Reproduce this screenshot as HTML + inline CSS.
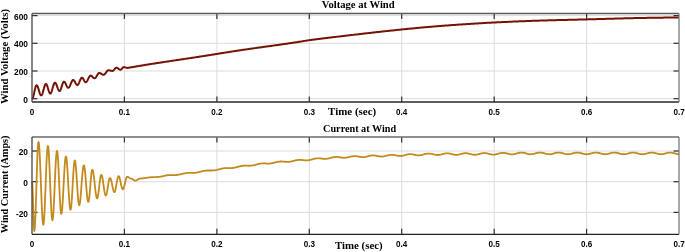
<!DOCTYPE html>
<html><head><meta charset="utf-8"><style>
html,body{margin:0;padding:0;background:#fff;}
body{width:685px;height:252px;overflow:hidden;}
svg{display:block;filter:blur(0.3px);}
.tk{font-family:"Liberation Sans",sans-serif;font-weight:bold;font-size:9px;fill:#000;}
.ti{font-family:"Liberation Serif",serif;font-weight:bold;font-size:11.2px;fill:#000;}
</style></head><body>
<svg width="685" height="252" viewBox="0 0 685 252">
<rect width="685" height="252" fill="#fff"/>
<g stroke="#dcdcdc" stroke-width="1" fill="none">
<line x1="124.4" y1="13.5" x2="124.4" y2="102.0"/>
<line x1="124.4" y1="137.0" x2="124.4" y2="234.3"/>
<line x1="216.9" y1="13.5" x2="216.9" y2="102.0"/>
<line x1="216.9" y1="137.0" x2="216.9" y2="234.3"/>
<line x1="309.3" y1="13.5" x2="309.3" y2="102.0"/>
<line x1="309.3" y1="137.0" x2="309.3" y2="234.3"/>
<line x1="401.7" y1="13.5" x2="401.7" y2="102.0"/>
<line x1="401.7" y1="137.0" x2="401.7" y2="234.3"/>
<line x1="494.2" y1="13.5" x2="494.2" y2="102.0"/>
<line x1="494.2" y1="137.0" x2="494.2" y2="234.3"/>
<line x1="586.6" y1="13.5" x2="586.6" y2="102.0"/>
<line x1="586.6" y1="137.0" x2="586.6" y2="234.3"/>
<line x1="32" y1="98.7" x2="679" y2="98.7"/>
<line x1="32" y1="71.0" x2="679" y2="71.0"/>
<line x1="32" y1="43.3" x2="679" y2="43.3"/>
<line x1="32" y1="15.6" x2="679" y2="15.6"/>
<line x1="32" y1="212.4" x2="679" y2="212.4"/>
<line x1="32" y1="181.7" x2="679" y2="181.7"/>
<line x1="32" y1="151.0" x2="679" y2="151.0"/>
</g>
<g stroke="#303030" stroke-width="1.2" fill="none">
<line x1="124.4" y1="13.5" x2="124.4" y2="19.0"/>
<line x1="124.4" y1="102.0" x2="124.4" y2="96.5"/>
<line x1="124.4" y1="137.0" x2="124.4" y2="142.5"/>
<line x1="124.4" y1="234.3" x2="124.4" y2="228.8"/>
<line x1="216.9" y1="13.5" x2="216.9" y2="19.0"/>
<line x1="216.9" y1="102.0" x2="216.9" y2="96.5"/>
<line x1="216.9" y1="137.0" x2="216.9" y2="142.5"/>
<line x1="216.9" y1="234.3" x2="216.9" y2="228.8"/>
<line x1="309.3" y1="13.5" x2="309.3" y2="19.0"/>
<line x1="309.3" y1="102.0" x2="309.3" y2="96.5"/>
<line x1="309.3" y1="137.0" x2="309.3" y2="142.5"/>
<line x1="309.3" y1="234.3" x2="309.3" y2="228.8"/>
<line x1="401.7" y1="13.5" x2="401.7" y2="19.0"/>
<line x1="401.7" y1="102.0" x2="401.7" y2="96.5"/>
<line x1="401.7" y1="137.0" x2="401.7" y2="142.5"/>
<line x1="401.7" y1="234.3" x2="401.7" y2="228.8"/>
<line x1="494.2" y1="13.5" x2="494.2" y2="19.0"/>
<line x1="494.2" y1="102.0" x2="494.2" y2="96.5"/>
<line x1="494.2" y1="137.0" x2="494.2" y2="142.5"/>
<line x1="494.2" y1="234.3" x2="494.2" y2="228.8"/>
<line x1="586.6" y1="13.5" x2="586.6" y2="19.0"/>
<line x1="586.6" y1="102.0" x2="586.6" y2="96.5"/>
<line x1="586.6" y1="137.0" x2="586.6" y2="142.5"/>
<line x1="586.6" y1="234.3" x2="586.6" y2="228.8"/>
<line x1="32" y1="98.7" x2="37.5" y2="98.7"/>
<line x1="679" y1="98.7" x2="673.5" y2="98.7"/>
<line x1="32" y1="71.0" x2="37.5" y2="71.0"/>
<line x1="679" y1="71.0" x2="673.5" y2="71.0"/>
<line x1="32" y1="43.3" x2="37.5" y2="43.3"/>
<line x1="679" y1="43.3" x2="673.5" y2="43.3"/>
<line x1="32" y1="15.6" x2="37.5" y2="15.6"/>
<line x1="679" y1="15.6" x2="673.5" y2="15.6"/>
<line x1="32" y1="212.4" x2="37.5" y2="212.4"/>
<line x1="679" y1="212.4" x2="673.5" y2="212.4"/>
<line x1="32" y1="181.7" x2="37.5" y2="181.7"/>
<line x1="679" y1="181.7" x2="673.5" y2="181.7"/>
<line x1="32" y1="151.0" x2="37.5" y2="151.0"/>
<line x1="679" y1="151.0" x2="673.5" y2="151.0"/>
</g>
<path d="M32.00,99.00 L32.26,98.90 L32.51,98.59 L32.77,98.08 L33.02,97.40 L33.28,96.55 L33.53,95.58 L33.79,94.49 L34.04,93.34 L34.30,92.15 L34.56,90.96 L34.81,89.81 L35.07,88.72 L35.32,87.75 L35.58,86.90 L35.83,86.22 L36.09,85.71 L36.34,85.40 L36.60,85.30 L36.86,85.38 L37.11,85.60 L37.37,85.98 L37.62,86.48 L37.88,87.10 L38.13,87.83 L38.39,88.62 L38.64,89.47 L38.90,90.35 L39.16,91.23 L39.41,92.08 L39.67,92.88 L39.92,93.60 L40.18,94.22 L40.43,94.72 L40.69,95.10 L40.94,95.32 L41.20,95.40 L41.46,95.31 L41.72,95.06 L41.98,94.64 L42.24,94.07 L42.51,93.36 L42.77,92.55 L43.03,91.65 L43.29,90.69 L43.55,89.70 L43.81,88.71 L44.07,87.75 L44.33,86.85 L44.59,86.04 L44.86,85.33 L45.12,84.76 L45.38,84.34 L45.64,84.09 L45.90,84.00 L46.16,84.08 L46.42,84.32 L46.68,84.71 L46.94,85.24 L47.19,85.89 L47.45,86.63 L47.71,87.45 L47.97,88.31 L48.23,89.19 L48.49,90.05 L48.75,90.87 L49.01,91.61 L49.26,92.26 L49.52,92.79 L49.78,93.18 L50.04,93.42 L50.30,93.50 L50.56,93.42 L50.82,93.17 L51.08,92.78 L51.34,92.24 L51.61,91.57 L51.87,90.80 L52.13,89.95 L52.39,89.04 L52.65,88.10 L52.91,87.16 L53.17,86.25 L53.43,85.40 L53.69,84.63 L53.96,83.96 L54.22,83.42 L54.48,83.03 L54.74,82.78 L55.00,82.70 L55.25,82.76 L55.50,82.95 L55.75,83.26 L56.00,83.67 L56.25,84.18 L56.50,84.78 L56.75,85.43 L57.00,86.13 L57.25,86.85 L57.50,87.57 L57.75,88.27 L58.00,88.92 L58.25,89.52 L58.50,90.03 L58.75,90.44 L59.00,90.75 L59.25,90.94 L59.50,91.00 L59.75,90.93 L60.00,90.72 L60.25,90.38 L60.50,89.91 L60.75,89.34 L61.00,88.67 L61.25,87.94 L61.50,87.16 L61.75,86.35 L62.00,85.54 L62.25,84.76 L62.50,84.03 L62.75,83.36 L63.00,82.79 L63.25,82.32 L63.50,81.98 L63.75,81.77 L64.00,81.70 L64.25,81.75 L64.51,81.91 L64.76,82.16 L65.01,82.50 L65.26,82.91 L65.52,83.39 L65.77,83.92 L66.02,84.47 L66.28,85.03 L66.53,85.58 L66.78,86.11 L67.04,86.59 L67.29,87.00 L67.54,87.34 L67.79,87.59 L68.05,87.75 L68.30,87.80 L68.56,87.75 L68.82,87.59 L69.07,87.33 L69.33,86.98 L69.59,86.54 L69.85,86.03 L70.11,85.47 L70.36,84.86 L70.62,84.22 L70.88,83.58 L71.14,82.94 L71.39,82.33 L71.65,81.77 L71.91,81.26 L72.17,80.82 L72.43,80.47 L72.68,80.21 L72.94,80.05 L73.20,80.00 L73.46,80.05 L73.71,80.19 L73.97,80.42 L74.22,80.73 L74.48,81.11 L74.74,81.54 L74.99,82.01 L75.25,82.50 L75.51,82.99 L75.76,83.46 L76.02,83.89 L76.28,84.27 L76.53,84.58 L76.79,84.81 L77.04,84.95 L77.30,85.00 L77.56,84.94 L77.82,84.78 L78.08,84.51 L78.34,84.15 L78.61,83.70 L78.87,83.17 L79.13,82.60 L79.39,81.98 L79.65,81.35 L79.91,80.72 L80.17,80.10 L80.43,79.53 L80.69,79.00 L80.96,78.55 L81.22,78.19 L81.48,77.92 L81.74,77.76 L82.00,77.70 L82.26,77.76 L82.53,77.92 L82.79,78.19 L83.06,78.55 L83.32,78.97 L83.59,79.45 L83.85,79.95 L84.11,80.45 L84.38,80.93 L84.64,81.35 L84.91,81.71 L85.17,81.98 L85.44,82.14 L85.70,82.20 L85.95,82.16 L86.20,82.04 L86.45,81.84 L86.70,81.57 L86.95,81.23 L87.20,80.84 L87.45,80.40 L87.70,79.92 L87.95,79.42 L88.20,78.90 L88.45,78.38 L88.70,77.88 L88.95,77.40 L89.20,76.96 L89.45,76.57 L89.70,76.23 L89.95,75.96 L90.20,75.76 L90.45,75.64 L90.70,75.60 L90.95,75.63 L91.21,75.72 L91.46,75.86 L91.71,76.05 L91.97,76.27 L92.22,76.53 L92.47,76.81 L92.73,77.09 L92.98,77.37 L93.23,77.62 L93.49,77.85 L93.74,78.04 L93.99,78.18 L94.25,78.27 L94.50,78.30 L94.75,78.26 L95.01,78.16 L95.26,77.98 L95.51,77.74 L95.76,77.44 L96.02,77.10 L96.27,76.71 L96.52,76.30 L96.77,75.87 L97.03,75.43 L97.28,75.00 L97.53,74.59 L97.78,74.20 L98.04,73.86 L98.29,73.56 L98.54,73.32 L98.79,73.14 L99.05,73.04 L99.30,73.00 L99.55,73.02 L99.81,73.06 L100.06,73.13 L100.31,73.23 L100.56,73.36 L100.82,73.50 L101.07,73.65 L101.32,73.82 L101.58,73.98 L101.83,74.15 L102.08,74.30 L102.34,74.44 L102.59,74.57 L102.84,74.67 L103.09,74.74 L103.35,74.78 L103.60,74.80 L103.85,74.77 L104.11,74.68 L104.36,74.53 L104.61,74.33 L104.86,74.07 L105.12,73.78 L105.37,73.45 L105.62,73.10 L105.87,72.74 L106.13,72.36 L106.38,72.00 L106.63,71.65 L106.88,71.32 L107.14,71.03 L107.39,70.77 L107.64,70.57 L107.89,70.42 L108.15,70.33 L108.40,70.30 L108.66,70.31 L108.91,70.32 L109.17,70.35 L109.43,70.39 L109.68,70.43 L109.94,70.49 L110.19,70.54 L110.45,70.60 L110.71,70.66 L110.96,70.71 L111.22,70.77 L111.47,70.81 L111.73,70.85 L111.99,70.88 L112.24,70.89 L112.50,70.90 L112.76,70.87 L113.02,70.76 L113.28,70.59 L113.54,70.37 L113.80,70.10 L114.06,69.79 L114.32,69.47 L114.58,69.13 L114.84,68.81 L115.10,68.50 L115.36,68.23 L115.62,68.01 L115.88,67.84 L116.14,67.73 L116.40,67.70 L116.65,67.72 L116.90,67.78 L117.15,67.87 L117.40,67.99 L117.65,68.14 L117.90,68.32 L118.15,68.50 L118.40,68.70 L118.65,68.90 L118.90,69.08 L119.15,69.26 L119.40,69.41 L119.65,69.53 L119.90,69.62 L120.15,69.68 L120.40,69.70 L120.65,69.67 L120.90,69.57 L121.15,69.42 L121.40,69.21 L121.65,68.96 L121.90,68.69 L122.15,68.40 L122.40,68.11 L122.65,67.84 L122.90,67.59 L123.15,67.38 L123.40,67.23 L123.65,67.13 L123.90,67.10 L124.15,67.11 L124.40,67.14 L124.65,67.19 L124.90,67.25 L125.15,67.33 L125.40,67.41 L125.65,67.50 L125.90,67.59 L126.15,67.67 L126.40,67.75 L126.65,67.81 L126.90,67.86 L127.15,67.89 L127.40,67.90 L128.00,67.80 L129.00,67.64 L130.00,67.47 L131.00,67.31 L132.00,67.14 L133.00,66.98 L134.00,66.81 L135.00,66.65 L136.00,66.48 L137.00,66.32 L138.00,66.15 L139.00,65.99 L140.00,65.82 L141.00,65.66 L142.00,65.49 L143.00,65.33 L144.00,65.17 L145.00,65.00 L146.00,64.84 L147.00,64.68 L148.00,64.52 L149.00,64.36 L150.00,64.20 L151.00,64.04 L152.00,63.88 L153.00,63.73 L154.00,63.57 L155.00,63.42 L156.00,63.26 L157.00,63.11 L158.00,62.95 L159.00,62.80 L160.00,62.64 L161.00,62.49 L162.00,62.34 L163.00,62.19 L164.00,62.03 L165.00,61.88 L166.00,61.73 L167.00,61.58 L168.00,61.43 L169.00,61.28 L170.00,61.13 L171.00,60.98 L172.00,60.83 L173.00,60.68 L174.00,60.53 L175.00,60.38 L176.00,60.23 L177.00,60.08 L178.00,59.93 L179.00,59.78 L180.00,59.63 L181.00,59.48 L182.00,59.33 L183.00,59.18 L184.00,59.03 L185.00,58.88 L186.00,58.73 L187.00,58.58 L188.00,58.43 L189.00,58.28 L190.00,58.13 L191.00,57.98 L192.00,57.82 L193.00,57.67 L194.00,57.52 L195.00,57.37 L196.00,57.22 L197.00,57.06 L198.00,56.91 L199.00,56.75 L200.00,56.60 L201.00,56.44 L202.00,56.29 L203.00,56.13 L204.00,55.98 L205.00,55.82 L206.00,55.66 L207.00,55.50 L208.00,55.34 L209.00,55.19 L210.00,55.03 L211.00,54.87 L212.00,54.71 L213.00,54.55 L214.00,54.39 L215.00,54.23 L216.00,54.07 L217.00,53.91 L218.00,53.75 L219.00,53.59 L220.00,53.43 L221.00,53.27 L222.00,53.11 L223.00,52.95 L224.00,52.79 L225.00,52.63 L226.00,52.47 L227.00,52.31 L228.00,52.16 L229.00,52.00 L230.00,51.84 L231.00,51.68 L232.00,51.53 L233.00,51.37 L234.00,51.22 L235.00,51.06 L236.00,50.91 L237.00,50.76 L238.00,50.60 L239.00,50.45 L240.00,50.30 L241.00,50.15 L242.00,50.00 L243.00,49.85 L244.00,49.70 L245.00,49.56 L246.00,49.41 L247.00,49.27 L248.00,49.12 L249.00,48.98 L250.00,48.83 L251.00,48.69 L252.00,48.55 L253.00,48.40 L254.00,48.26 L255.00,48.12 L256.00,47.98 L257.00,47.84 L258.00,47.70 L259.00,47.56 L260.00,47.42 L261.00,47.28 L262.00,47.14 L263.00,47.00 L264.00,46.86 L265.00,46.73 L266.00,46.59 L267.00,46.45 L268.00,46.31 L269.00,46.17 L270.00,46.03 L271.00,45.89 L272.00,45.76 L273.00,45.62 L274.00,45.48 L275.00,45.34 L276.00,45.20 L277.00,45.06 L278.00,44.92 L279.00,44.78 L280.00,44.64 L281.00,44.50 L282.00,44.36 L283.00,44.21 L284.00,44.07 L285.00,43.93 L286.00,43.78 L287.00,43.64 L288.00,43.50 L289.00,43.35 L290.00,43.20 L291.00,43.06 L292.00,42.91 L293.00,42.76 L294.00,42.61 L295.00,42.46 L296.00,42.31 L297.00,42.16 L298.00,42.01 L299.00,41.85 L300.00,41.70 L301.00,41.54 L302.00,41.38 L303.00,41.21 L304.00,41.04 L305.00,40.87 L306.00,40.70 L307.00,40.54 L308.00,40.38 L309.00,40.23 L310.00,40.09 L311.00,39.94 L312.00,39.81 L313.00,39.67 L314.00,39.53 L315.00,39.40 L316.00,39.27 L317.00,39.14 L318.00,39.01 L319.00,38.89 L320.00,38.76 L321.00,38.64 L322.00,38.51 L323.00,38.39 L324.00,38.27 L325.00,38.15 L326.00,38.03 L327.00,37.92 L328.00,37.80 L329.00,37.68 L330.00,37.56 L331.00,37.45 L332.00,37.33 L333.00,37.22 L334.00,37.10 L335.00,36.98 L336.00,36.87 L337.00,36.75 L338.00,36.63 L339.00,36.52 L340.00,36.40 L341.00,36.28 L342.00,36.16 L343.00,36.05 L344.00,35.93 L345.00,35.81 L346.00,35.69 L347.00,35.57 L348.00,35.46 L349.00,35.34 L350.00,35.22 L351.00,35.10 L352.00,34.99 L353.00,34.87 L354.00,34.75 L355.00,34.63 L356.00,34.52 L357.00,34.40 L358.00,34.28 L359.00,34.17 L360.00,34.05 L361.00,33.93 L362.00,33.82 L363.00,33.70 L364.00,33.59 L365.00,33.47 L366.00,33.36 L367.00,33.24 L368.00,33.13 L369.00,33.01 L370.00,32.90 L371.00,32.79 L372.00,32.67 L373.00,32.56 L374.00,32.45 L375.00,32.33 L376.00,32.22 L377.00,32.11 L378.00,32.00 L379.00,31.89 L380.00,31.78 L381.00,31.67 L382.00,31.56 L383.00,31.45 L384.00,31.34 L385.00,31.23 L386.00,31.12 L387.00,31.01 L388.00,30.91 L389.00,30.80 L390.00,30.69 L391.00,30.59 L392.00,30.48 L393.00,30.38 L394.00,30.27 L395.00,30.17 L396.00,30.07 L397.00,29.96 L398.00,29.86 L399.00,29.76 L400.00,29.66 L401.00,29.56 L402.00,29.46 L403.00,29.36 L404.00,29.26 L405.00,29.16 L406.00,29.06 L407.00,28.96 L408.00,28.87 L409.00,28.77 L410.00,28.67 L411.00,28.57 L412.00,28.47 L413.00,28.38 L414.00,28.28 L415.00,28.19 L416.00,28.09 L417.00,27.99 L418.00,27.90 L419.00,27.81 L420.00,27.71 L421.00,27.62 L422.00,27.53 L423.00,27.44 L424.00,27.35 L425.00,27.25 L426.00,27.17 L427.00,27.08 L428.00,26.99 L429.00,26.90 L430.00,26.81 L431.00,26.73 L432.00,26.64 L433.00,26.56 L434.00,26.48 L435.00,26.40 L436.00,26.31 L437.00,26.23 L438.00,26.16 L439.00,26.08 L440.00,26.00 L441.00,25.92 L442.00,25.85 L443.00,25.77 L444.00,25.70 L445.00,25.62 L446.00,25.55 L447.00,25.47 L448.00,25.40 L449.00,25.33 L450.00,25.25 L451.00,25.18 L452.00,25.11 L453.00,25.04 L454.00,24.96 L455.00,24.89 L456.00,24.82 L457.00,24.75 L458.00,24.68 L459.00,24.61 L460.00,24.54 L461.00,24.47 L462.00,24.41 L463.00,24.34 L464.00,24.27 L465.00,24.20 L466.00,24.14 L467.00,24.07 L468.00,24.01 L469.00,23.94 L470.00,23.88 L471.00,23.81 L472.00,23.75 L473.00,23.69 L474.00,23.63 L475.00,23.56 L476.00,23.50 L477.00,23.44 L478.00,23.38 L479.00,23.32 L480.00,23.26 L481.00,23.21 L482.00,23.15 L483.00,23.09 L484.00,23.03 L485.00,22.98 L486.00,22.92 L487.00,22.87 L488.00,22.81 L489.00,22.76 L490.00,22.71 L491.00,22.65 L492.00,22.60 L493.00,22.55 L494.00,22.50 L495.00,22.45 L496.00,22.40 L497.00,22.35 L498.00,22.30 L499.00,22.25 L500.00,22.21 L501.00,22.16 L502.00,22.11 L503.00,22.06 L504.00,22.02 L505.00,21.97 L506.00,21.92 L507.00,21.88 L508.00,21.83 L509.00,21.79 L510.00,21.74 L511.00,21.70 L512.00,21.66 L513.00,21.61 L514.00,21.57 L515.00,21.53 L516.00,21.49 L517.00,21.44 L518.00,21.40 L519.00,21.36 L520.00,21.32 L521.00,21.28 L522.00,21.24 L523.00,21.20 L524.00,21.16 L525.00,21.13 L526.00,21.09 L527.00,21.05 L528.00,21.01 L529.00,20.98 L530.00,20.94 L531.00,20.90 L532.00,20.87 L533.00,20.83 L534.00,20.80 L535.00,20.76 L536.00,20.73 L537.00,20.70 L538.00,20.66 L539.00,20.63 L540.00,20.60 L541.00,20.57 L542.00,20.54 L543.00,20.51 L544.00,20.48 L545.00,20.45 L546.00,20.42 L547.00,20.39 L548.00,20.36 L549.00,20.33 L550.00,20.31 L551.00,20.28 L552.00,20.25 L553.00,20.23 L554.00,20.20 L555.00,20.17 L556.00,20.15 L557.00,20.12 L558.00,20.10 L559.00,20.07 L560.00,20.05 L561.00,20.02 L562.00,20.00 L563.00,19.97 L564.00,19.95 L565.00,19.93 L566.00,19.90 L567.00,19.88 L568.00,19.85 L569.00,19.83 L570.00,19.81 L571.00,19.78 L572.00,19.76 L573.00,19.73 L574.00,19.71 L575.00,19.69 L576.00,19.66 L577.00,19.64 L578.00,19.61 L579.00,19.59 L580.00,19.57 L581.00,19.54 L582.00,19.52 L583.00,19.49 L584.00,19.47 L585.00,19.44 L586.00,19.42 L587.00,19.39 L588.00,19.36 L589.00,19.34 L590.00,19.31 L591.00,19.28 L592.00,19.26 L593.00,19.23 L594.00,19.20 L595.00,19.17 L596.00,19.15 L597.00,19.12 L598.00,19.09 L599.00,19.06 L600.00,19.03 L601.00,19.00 L602.00,18.98 L603.00,18.95 L604.00,18.92 L605.00,18.89 L606.00,18.86 L607.00,18.83 L608.00,18.80 L609.00,18.78 L610.00,18.75 L611.00,18.72 L612.00,18.69 L613.00,18.66 L614.00,18.63 L615.00,18.61 L616.00,18.58 L617.00,18.55 L618.00,18.52 L619.00,18.50 L620.00,18.47 L621.00,18.44 L622.00,18.42 L623.00,18.39 L624.00,18.36 L625.00,18.34 L626.00,18.31 L627.00,18.29 L628.00,18.26 L629.00,18.24 L630.00,18.22 L631.00,18.19 L632.00,18.17 L633.00,18.15 L634.00,18.12 L635.00,18.10 L636.00,18.08 L637.00,18.06 L638.00,18.04 L639.00,18.02 L640.00,18.00 L641.00,17.98 L642.00,17.96 L643.00,17.94 L644.00,17.93 L645.00,17.91 L646.00,17.89 L647.00,17.87 L648.00,17.86 L649.00,17.84 L650.00,17.83 L651.00,17.81 L652.00,17.79 L653.00,17.78 L654.00,17.76 L655.00,17.75 L656.00,17.73 L657.00,17.72 L658.00,17.70 L659.00,17.69 L660.00,17.67 L661.00,17.66 L662.00,17.65 L663.00,17.63 L664.00,17.62 L665.00,17.60 L666.00,17.59 L667.00,17.58 L668.00,17.56 L669.00,17.55 L670.00,17.53 L671.00,17.52 L672.00,17.50 L673.00,17.49 L674.00,17.47 L675.00,17.46 L676.00,17.45 L677.00,17.43 L678.00,17.42 L679.00,17.40" fill="none" stroke="#741206" stroke-width="2.0" stroke-linejoin="round"/>
<path d="M32.00,181.50 L32.26,182.99 L32.51,187.29 L32.77,193.88 L33.02,201.95 L33.28,210.55 L33.53,218.62 L33.79,225.21 L34.04,229.51 L34.30,231.00 L34.56,230.14 L34.82,227.61 L35.09,223.50 L35.35,217.97 L35.61,211.22 L35.88,203.53 L36.14,195.18 L36.40,186.50 L36.66,177.82 L36.92,169.47 L37.19,161.78 L37.45,155.03 L37.71,149.50 L37.98,145.39 L38.24,142.86 L38.50,142.00 L38.75,142.56 L39.01,144.24 L39.26,146.98 L39.51,150.72 L39.76,155.34 L40.02,160.73 L40.27,166.74 L40.52,173.20 L40.77,179.94 L41.03,186.76 L41.28,193.50 L41.53,199.96 L41.78,205.97 L42.04,211.36 L42.29,215.98 L42.54,219.72 L42.79,222.46 L43.05,224.14 L43.30,224.70 L43.56,224.10 L43.81,222.33 L44.07,219.43 L44.32,215.49 L44.58,210.64 L44.83,205.03 L45.09,198.81 L45.34,192.18 L45.60,185.35 L45.86,178.52 L46.11,171.89 L46.37,165.68 L46.62,160.06 L46.88,155.21 L47.13,151.27 L47.39,148.37 L47.64,146.60 L47.90,146.00 L48.15,146.56 L48.40,148.24 L48.65,150.98 L48.90,154.69 L49.15,159.27 L49.40,164.57 L49.65,170.44 L49.90,176.70 L50.15,183.15 L50.40,189.60 L50.65,195.86 L50.90,201.72 L51.15,207.03 L51.40,211.61 L51.65,215.32 L51.90,218.06 L52.15,219.74 L52.40,220.30 L52.66,219.77 L52.91,218.21 L53.17,215.65 L53.42,212.18 L53.68,207.90 L53.93,202.95 L54.19,197.47 L54.44,191.63 L54.70,185.60 L54.96,179.57 L55.21,173.73 L55.47,168.25 L55.72,163.30 L55.98,159.02 L56.23,155.55 L56.49,152.99 L56.74,151.43 L57.00,150.90 L57.25,151.44 L57.51,153.02 L57.76,155.61 L58.01,159.11 L58.26,163.40 L58.52,168.33 L58.77,173.74 L59.02,179.45 L59.28,185.25 L59.53,190.96 L59.78,196.37 L60.04,201.30 L60.29,205.59 L60.54,209.09 L60.79,211.68 L61.05,213.26 L61.30,213.80 L61.56,213.36 L61.81,212.07 L62.07,209.95 L62.32,207.09 L62.58,203.55 L62.83,199.45 L63.09,194.92 L63.34,190.08 L63.60,185.10 L63.86,180.12 L64.11,175.28 L64.37,170.75 L64.62,166.65 L64.88,163.11 L65.13,160.25 L65.39,158.13 L65.64,156.84 L65.90,156.40 L66.16,156.81 L66.41,158.01 L66.67,159.98 L66.92,162.65 L67.18,165.94 L67.43,169.75 L67.69,173.97 L67.94,178.46 L68.20,183.10 L68.46,187.74 L68.71,192.23 L68.97,196.45 L69.22,200.26 L69.48,203.55 L69.73,206.22 L69.99,208.19 L70.24,209.39 L70.50,209.80 L70.75,209.38 L71.01,208.13 L71.26,206.10 L71.51,203.35 L71.76,199.99 L72.02,196.11 L72.27,191.86 L72.52,187.38 L72.78,182.82 L73.03,178.34 L73.28,174.09 L73.54,170.21 L73.79,166.85 L74.04,164.10 L74.29,162.07 L74.55,160.82 L74.80,160.40 L75.06,160.78 L75.32,161.91 L75.58,163.76 L75.84,166.25 L76.09,169.30 L76.35,172.82 L76.61,176.67 L76.87,180.73 L77.13,184.87 L77.39,188.93 L77.65,192.78 L77.91,196.30 L78.16,199.35 L78.42,201.84 L78.68,203.69 L78.94,204.82 L79.20,205.20 L79.46,204.90 L79.71,204.00 L79.97,202.53 L80.22,200.54 L80.48,198.09 L80.73,195.25 L80.99,192.11 L81.24,188.76 L81.50,185.30 L81.76,181.84 L82.01,178.49 L82.27,175.35 L82.52,172.51 L82.78,170.06 L83.03,168.07 L83.29,166.60 L83.54,165.70 L83.80,165.40 L84.05,165.68 L84.30,166.50 L84.55,167.85 L84.80,169.67 L85.05,171.92 L85.30,174.53 L85.55,177.41 L85.80,180.48 L86.05,183.65 L86.30,186.82 L86.55,189.89 L86.80,192.78 L87.05,195.38 L87.30,197.63 L87.55,199.45 L87.80,200.80 L88.05,201.62 L88.30,201.90 L88.55,201.59 L88.80,200.67 L89.05,199.19 L89.30,197.18 L89.55,194.74 L89.80,191.96 L90.05,188.94 L90.30,185.80 L90.55,182.66 L90.80,179.64 L91.05,176.86 L91.30,174.42 L91.55,172.41 L91.80,170.93 L92.05,170.01 L92.30,169.70 L92.55,169.90 L92.81,170.47 L93.06,171.42 L93.31,172.72 L93.56,174.31 L93.82,176.18 L94.07,178.26 L94.32,180.49 L94.57,182.82 L94.83,185.18 L95.08,187.51 L95.33,189.74 L95.58,191.82 L95.84,193.69 L96.09,195.28 L96.34,196.58 L96.59,197.53 L96.85,198.10 L97.10,198.30 L97.36,198.07 L97.62,197.41 L97.89,196.32 L98.15,194.86 L98.41,193.08 L98.67,191.05 L98.94,188.84 L99.20,186.55 L99.46,184.26 L99.72,182.05 L99.99,180.02 L100.25,178.24 L100.51,176.78 L100.77,175.69 L101.04,175.03 L101.30,174.80 L101.55,174.96 L101.80,175.43 L102.05,176.19 L102.30,177.23 L102.55,178.52 L102.80,180.00 L103.05,181.64 L103.30,183.39 L103.55,185.20 L103.80,187.01 L104.05,188.76 L104.30,190.40 L104.55,191.88 L104.80,193.17 L105.05,194.21 L105.30,194.97 L105.55,195.44 L105.80,195.60 L106.06,195.43 L106.33,194.93 L106.59,194.12 L106.85,193.02 L107.11,191.69 L107.38,190.17 L107.64,188.52 L107.90,186.80 L108.16,185.08 L108.42,183.43 L108.69,181.91 L108.95,180.58 L109.21,179.48 L109.47,178.67 L109.74,178.17 L110.00,178.00 L110.26,178.12 L110.52,178.48 L110.78,179.06 L111.04,179.84 L111.29,180.80 L111.55,181.91 L111.81,183.12 L112.07,184.40 L112.33,185.70 L112.59,186.98 L112.85,188.19 L113.11,189.30 L113.36,190.26 L113.62,191.04 L113.88,191.62 L114.14,191.98 L114.40,192.10 L114.66,191.95 L114.93,191.49 L115.19,190.75 L115.45,189.76 L115.71,188.54 L115.97,187.16 L116.24,185.66 L116.50,184.10 L116.76,182.54 L117.03,181.04 L117.29,179.66 L117.55,178.44 L117.81,177.45 L118.07,176.71 L118.34,176.25 L118.60,176.10 L118.86,176.23 L119.12,176.60 L119.39,177.21 L119.65,178.03 L119.91,179.03 L120.17,180.17 L120.44,181.41 L120.70,182.70 L120.96,183.99 L121.22,185.23 L121.49,186.37 L121.75,187.37 L122.01,188.19 L122.27,188.80 L122.54,189.17 L122.80,189.30 L123.06,189.19 L123.32,188.88 L123.58,188.36 L123.84,187.67 L124.09,186.82 L124.35,185.84 L124.61,184.76 L124.87,183.63 L125.13,182.47 L125.39,181.34 L125.65,180.26 L125.91,179.28 L126.16,178.43 L126.42,177.74 L126.68,177.22 L126.94,176.91 L127.20,176.80 L127.46,176.82 L127.72,176.88 L127.98,176.97 L128.24,177.10 L128.50,177.25 L128.76,177.42 L129.02,177.61 L129.28,177.79 L129.54,177.98 L129.80,178.15 L130.06,178.30 L130.32,178.43 L130.58,178.52 L130.84,178.58 L131.10,178.60 L131.36,178.62 L131.62,178.68 L131.89,178.77 L132.15,178.89 L132.41,179.04 L132.68,179.22 L132.94,179.40 L133.20,179.60 L133.46,179.80 L133.72,179.98 L133.99,180.16 L134.25,180.31 L134.51,180.43 L134.78,180.52 L135.04,180.58 L135.30,180.60 L135.56,180.58 L135.82,180.54 L136.08,180.47 L136.34,180.37 L136.61,180.24 L136.87,180.10 L137.13,179.94 L137.39,179.77 L137.65,179.60 L137.91,179.43 L138.17,179.26 L138.43,179.10 L138.69,178.96 L138.96,178.83 L139.22,178.73 L139.48,178.66 L139.74,178.62 L140.00,178.60 L140.50,178.55 L141.00,178.51 L141.50,178.46 L142.00,178.41 L142.50,178.36 L143.00,178.30 L143.50,178.24 L144.00,178.18 L144.50,178.11 L145.00,178.05 L145.50,177.98 L146.00,177.90 L146.50,177.83 L147.00,177.75 L147.50,177.68 L148.00,177.60 L148.50,177.53 L149.00,177.46 L149.50,177.40 L150.00,177.34 L150.50,177.28 L151.00,177.24 L151.50,177.19 L152.00,177.16 L152.50,177.13 L153.00,177.11 L153.50,177.09 L154.00,177.08 L154.50,177.07 L155.00,177.06 L155.50,177.05 L156.00,177.05 L156.50,177.04 L157.00,177.02 L157.50,177.00 L158.00,176.97 L158.50,176.94 L159.00,176.89 L159.50,176.84 L160.00,176.77 L160.50,176.68 L161.00,176.59 L161.50,176.49 L162.00,176.38 L162.50,176.27 L163.00,176.15 L163.50,176.04 L164.00,175.92 L164.50,175.81 L165.00,175.69 L165.50,175.59 L166.00,175.49 L166.50,175.40 L167.00,175.32 L167.50,175.25 L168.00,175.19 L168.50,175.14 L169.00,175.10 L169.50,175.07 L170.00,175.05 L170.50,175.03 L171.00,175.03 L171.50,175.03 L172.00,175.03 L172.50,175.04 L173.00,175.05 L173.50,175.06 L174.00,175.06 L174.50,175.06 L175.00,175.05 L175.50,175.03 L176.00,175.01 L176.50,174.98 L177.00,174.93 L177.50,174.87 L178.00,174.81 L178.50,174.73 L179.00,174.64 L179.50,174.54 L180.00,174.44 L180.50,174.32 L181.00,174.20 L181.50,174.08 L182.00,173.96 L182.50,173.83 L183.00,173.71 L183.50,173.59 L184.00,173.48 L184.50,173.37 L185.00,173.27 L185.50,173.18 L186.00,173.10 L186.50,173.03 L187.00,172.97 L187.50,172.93 L188.00,172.89 L188.50,172.86 L189.00,172.85 L189.50,172.84 L190.00,172.83 L190.50,172.84 L191.00,172.84 L191.50,172.84 L192.00,172.85 L192.50,172.85 L193.00,172.85 L193.50,172.84 L194.00,172.82 L194.50,172.79 L195.00,172.76 L195.50,172.71 L196.00,172.65 L196.50,172.58 L197.00,172.50 L197.50,172.41 L198.00,172.30 L198.50,172.19 L199.00,172.07 L199.50,171.95 L200.00,171.82 L200.50,171.69 L201.00,171.56 L201.50,171.43 L202.00,171.30 L202.50,171.18 L203.00,171.06 L203.50,170.96 L204.00,170.86 L204.50,170.77 L205.00,170.70 L205.50,170.64 L206.00,170.58 L206.50,170.54 L207.00,170.51 L207.50,170.49 L208.00,170.48 L208.50,170.48 L209.00,170.48 L209.50,170.48 L210.00,170.49 L210.50,170.49 L211.00,170.50 L211.50,170.50 L212.00,170.49 L212.50,170.47 L213.00,170.45 L213.50,170.41 L214.00,170.37 L214.50,170.31 L215.00,170.24 L215.50,170.16 L216.00,170.07 L216.50,169.97 L217.00,169.85 L217.50,169.73 L218.00,169.61 L218.50,169.47 L219.00,169.34 L219.50,169.20 L220.00,169.07 L220.50,168.94 L221.00,168.81 L221.50,168.69 L222.00,168.58 L222.50,168.48 L223.00,168.39 L223.50,168.31 L224.00,168.24 L224.50,168.19 L225.00,168.15 L225.50,168.11 L226.00,168.09 L226.50,168.08 L227.00,168.07 L227.50,168.07 L228.00,168.08 L228.50,168.09 L229.00,168.09 L229.50,168.10 L230.00,168.10 L230.50,168.09 L231.00,168.08 L231.50,168.06 L232.00,168.03 L232.50,167.98 L233.00,167.93 L233.50,167.86 L234.00,167.78 L234.50,167.69 L235.00,167.58 L235.50,167.47 L236.00,167.35 L236.50,167.22 L237.00,167.09 L237.50,166.95 L238.00,166.81 L238.50,166.68 L239.00,166.54 L239.50,166.42 L240.00,166.30 L240.50,166.18 L241.00,166.08 L241.50,165.99 L242.00,165.91 L242.50,165.84 L243.00,165.79 L243.50,165.75 L244.00,165.72 L244.50,165.70 L245.00,165.69 L245.50,165.68 L246.00,165.69 L246.50,165.70 L247.00,165.71 L247.50,165.72 L248.00,165.73 L248.50,165.74 L249.00,165.74 L249.50,165.73 L250.00,165.72 L250.50,165.69 L251.00,165.65 L251.50,165.60 L252.00,165.54 L252.50,165.46 L253.00,165.37 L253.50,165.27 L254.00,165.16 L254.50,165.04 L255.00,164.92 L255.50,164.78 L256.00,164.64 L256.50,164.51 L257.00,164.37 L257.50,164.23 L258.00,164.10 L258.50,163.98 L259.00,163.86 L259.50,163.76 L260.00,163.66 L260.50,163.58 L261.00,163.52 L261.50,163.46 L262.00,163.43 L262.50,163.40 L263.00,163.39 L263.50,163.38 L264.00,163.39 L264.50,163.41 L265.00,163.43 L265.50,163.45 L266.00,163.48 L266.50,163.50 L267.00,163.53 L267.50,163.54 L268.00,163.55 L268.50,163.55 L269.00,163.54 L269.50,163.52 L270.00,163.49 L270.50,163.44 L271.00,163.38 L271.50,163.30 L272.00,163.21 L272.50,163.11 L273.00,163.00 L273.50,162.89 L274.00,162.76 L274.50,162.63 L275.00,162.50 L275.50,162.37 L276.00,162.24 L276.50,162.11 L277.00,162.00 L277.50,161.89 L278.00,161.79 L278.50,161.71 L279.00,161.64 L279.50,161.58 L280.00,161.54 L280.50,161.51 L281.00,161.50 L281.50,161.49 L282.00,161.51 L282.50,161.53 L283.00,161.56 L283.50,161.60 L284.00,161.64 L284.50,161.68 L285.00,161.73 L285.50,161.77 L286.00,161.80 L286.50,161.83 L287.00,161.84 L287.50,161.85 L288.00,161.84 L288.50,161.82 L289.00,161.78 L289.50,161.73 L290.00,161.66 L290.50,161.58 L291.00,161.49 L291.50,161.38 L292.00,161.27 L292.50,161.15 L293.00,161.02 L293.50,160.89 L294.00,160.75 L294.50,160.62 L295.00,160.50 L295.50,160.38 L296.00,160.27 L296.50,160.17 L297.00,160.09 L297.50,160.02 L298.00,159.96 L298.50,159.92 L299.00,159.90 L299.50,159.89 L300.00,159.89 L300.50,159.91 L301.00,159.94 L301.50,159.98 L302.00,160.03 L302.50,160.08 L303.00,160.13 L303.50,160.18 L304.00,160.23 L304.50,160.28 L305.00,160.31 L305.50,160.34 L306.00,160.35 L306.50,160.35 L307.00,160.33 L307.50,160.30 L308.00,160.26 L308.50,160.19 L309.00,160.11 L309.50,160.02 L310.00,159.91 L310.50,159.80 L311.00,159.67 L311.50,159.53 L312.00,159.40 L312.50,159.26 L313.00,159.12 L313.50,158.99 L314.00,158.86 L314.50,158.74 L315.00,158.64 L315.50,158.54 L316.00,158.47 L316.50,158.40 L317.00,158.36 L317.50,158.33 L318.00,158.32 L318.50,158.32 L319.00,158.34 L319.50,158.37 L320.00,158.41 L320.50,158.46 L321.00,158.51 L321.50,158.57 L322.00,158.63 L322.50,158.68 L323.00,158.73 L323.50,158.78 L324.00,158.81 L324.50,158.83 L325.00,158.84 L325.50,158.83 L326.00,158.80 L326.50,158.76 L327.00,158.70 L327.50,158.62 L328.00,158.53 L328.50,158.43 L329.00,158.32 L329.50,158.19 L330.00,158.06 L330.50,157.92 L331.00,157.79 L331.50,157.65 L332.00,157.52 L332.50,157.40 L333.00,157.29 L333.50,157.19 L334.00,157.11 L334.50,157.04 L335.00,156.99 L335.50,156.95 L336.00,156.94 L336.50,156.94 L337.00,156.96 L337.50,157.00 L338.00,157.05 L338.50,157.11 L339.00,157.18 L339.50,157.25 L340.00,157.34 L340.50,157.42 L341.00,157.50 L341.50,157.57 L342.00,157.64 L342.50,157.70 L343.00,157.74 L343.50,157.77 L344.00,157.78 L344.50,157.78 L345.00,157.76 L345.50,157.72 L346.00,157.66 L346.50,157.59 L347.00,157.50 L347.50,157.39 L348.00,157.28 L348.50,157.16 L349.00,157.03 L349.50,156.90 L350.00,156.77 L350.50,156.65 L351.00,156.53 L351.50,156.42 L352.00,156.33 L352.50,156.25 L353.00,156.18 L353.50,156.13 L354.00,156.11 L354.50,156.10 L355.00,156.10 L355.50,156.13 L356.00,156.17 L356.50,156.23 L357.00,156.30 L357.50,156.38 L358.00,156.47 L358.50,156.57 L359.00,156.66 L359.50,156.76 L360.00,156.84 L360.50,156.92 L361.00,156.99 L361.50,157.05 L362.00,157.09 L362.50,157.11 L363.00,157.12 L363.50,157.10 L364.00,157.07 L364.50,157.02 L365.00,156.95 L365.50,156.86 L366.00,156.76 L366.50,156.64 L367.00,156.52 L367.50,156.39 L368.00,156.26 L368.50,156.13 L369.00,156.00 L369.50,155.87 L370.00,155.76 L370.50,155.66 L371.00,155.57 L371.50,155.50 L372.00,155.45 L372.50,155.42 L373.00,155.41 L373.50,155.41 L374.00,155.44 L374.50,155.49 L375.00,155.55 L375.50,155.62 L376.00,155.71 L376.50,155.80 L377.00,155.90 L377.50,156.01 L378.00,156.11 L378.50,156.20 L379.00,156.29 L379.50,156.37 L380.00,156.44 L380.50,156.48 L381.00,156.51 L381.50,156.53 L382.00,156.52 L382.50,156.49 L383.00,156.44 L383.50,156.37 L384.00,156.29 L384.50,156.18 L385.00,156.07 L385.50,155.95 L386.00,155.81 L386.50,155.68 L387.00,155.54 L387.50,155.40 L388.00,155.28 L388.50,155.16 L389.00,155.05 L389.50,154.96 L390.00,154.89 L390.50,154.83 L391.00,154.80 L391.50,154.78 L392.00,154.79 L392.50,154.82 L393.00,154.86 L393.50,154.93 L394.00,155.00 L394.50,155.09 L395.00,155.20 L395.50,155.30 L396.00,155.41 L396.50,155.52 L397.00,155.63 L397.50,155.72 L398.00,155.81 L398.50,155.88 L399.00,155.94 L399.50,155.97 L400.00,155.99 L400.50,155.99 L401.00,155.96 L401.50,155.91 L402.00,155.84 L402.50,155.76 L403.00,155.65 L403.50,155.54 L404.00,155.41 L404.50,155.27 L405.00,155.12 L405.50,154.98 L406.00,154.84 L406.50,154.70 L407.00,154.57 L407.50,154.46 L408.00,154.35 L408.50,154.27 L409.00,154.21 L409.50,154.17 L410.00,154.14 L410.50,154.14 L411.00,154.17 L411.50,154.21 L412.00,154.27 L412.50,154.34 L413.00,154.43 L413.50,154.53 L414.00,154.64 L414.50,154.75 L415.00,154.86 L415.50,154.96 L416.00,155.06 L416.50,155.15 L417.00,155.22 L417.50,155.28 L418.00,155.32 L418.50,155.34 L419.00,155.34 L419.50,155.32 L420.00,155.28 L420.50,155.21 L421.00,155.13 L421.50,155.03 L422.00,154.91 L422.50,154.78 L423.00,154.64 L423.50,154.50 L424.00,154.36 L424.50,154.22 L425.00,154.08 L425.50,153.95 L426.00,153.84 L426.50,153.74 L427.00,153.66 L427.50,153.60 L428.00,153.56 L428.50,153.55 L429.00,153.55 L429.50,153.58 L430.00,153.63 L430.50,153.70 L431.00,153.79 L431.50,153.89 L432.00,154.00 L432.50,154.12 L433.00,154.25 L433.50,154.37 L434.00,154.50 L434.50,154.61 L435.00,154.72 L435.50,154.81 L436.00,154.89 L436.50,154.94 L437.00,154.98 L437.50,155.00 L438.00,154.99 L438.50,154.96 L439.00,154.91 L439.50,154.84 L440.00,154.75 L440.50,154.64 L441.00,154.52 L441.50,154.39 L442.00,154.26 L442.50,154.12 L443.00,153.98 L443.50,153.85 L444.00,153.73 L444.50,153.61 L445.00,153.52 L445.50,153.44 L446.00,153.38 L446.50,153.34 L447.00,153.32 L447.50,153.33 L448.00,153.36 L448.50,153.41 L449.00,153.48 L449.50,153.57 L450.00,153.68 L450.50,153.79 L451.00,153.92 L451.50,154.05 L452.00,154.18 L452.50,154.31 L453.00,154.43 L453.50,154.54 L454.00,154.64 L454.50,154.73 L455.00,154.79 L455.50,154.84 L456.00,154.86 L456.50,154.86 L457.00,154.84 L457.50,154.79 L458.00,154.72 L458.50,154.64 L459.00,154.53 L459.50,154.42 L460.00,154.29 L460.50,154.15 L461.00,154.01 L461.50,153.87 L462.00,153.74 L462.50,153.61 L463.00,153.50 L463.50,153.40 L464.00,153.31 L464.50,153.25 L465.00,153.21 L465.50,153.19 L466.00,153.19 L466.50,153.22 L467.00,153.27 L467.50,153.34 L468.00,153.42 L468.50,153.53 L469.00,153.65 L469.50,153.77 L470.00,153.91 L470.50,154.04 L471.00,154.18 L471.50,154.30 L472.00,154.42 L472.50,154.53 L473.00,154.62 L473.50,154.69 L474.00,154.74 L474.50,154.77 L475.00,154.77 L475.50,154.75 L476.00,154.71 L476.50,154.65 L477.00,154.56 L477.50,154.46 L478.00,154.34 L478.50,154.21 L479.00,154.07 L479.50,153.93 L480.00,153.79 L480.50,153.65 L481.00,153.52 L481.50,153.40 L482.00,153.29 L482.50,153.20 L483.00,153.13 L483.50,153.08 L484.00,153.05 L484.50,153.05 L485.00,153.07 L485.50,153.12 L486.00,153.18 L486.50,153.27 L487.00,153.37 L487.50,153.49 L488.00,153.62 L488.50,153.75 L489.00,153.89 L489.50,154.02 L490.00,154.16 L490.50,154.28 L491.00,154.39 L491.50,154.48 L492.00,154.56 L492.50,154.61 L493.00,154.64 L493.50,154.65 L494.00,154.63 L494.50,154.59 L495.00,154.53 L495.50,154.44 L496.00,154.34 L496.50,154.22 L497.00,154.09 L497.50,153.94 L498.00,153.79 L498.50,153.64 L499.00,153.50 L499.50,153.36 L500.00,153.22 L500.50,153.11 L501.00,153.01 L501.50,152.93 L502.00,152.87 L502.50,152.84 L503.00,152.82 L503.50,152.84 L504.00,152.87 L504.50,152.93 L505.00,153.01 L505.50,153.11 L506.00,153.22 L506.50,153.34 L507.00,153.48 L507.50,153.61 L508.00,153.74 L508.50,153.87 L509.00,153.99 L509.50,154.10 L510.00,154.20 L510.50,154.27 L511.00,154.33 L511.50,154.36 L512.00,154.37 L512.50,154.35 L513.00,154.32 L513.50,154.25 L514.00,154.17 L514.50,154.07 L515.00,153.95 L515.50,153.82 L516.00,153.68 L516.50,153.53 L517.00,153.38 L517.50,153.23 L518.00,153.09 L518.50,152.96 L519.00,152.84 L519.50,152.74 L520.00,152.66 L520.50,152.61 L521.00,152.57 L521.50,152.56 L522.00,152.58 L522.50,152.61 L523.00,152.67 L523.50,152.76 L524.00,152.86 L524.50,152.98 L525.00,153.10 L525.50,153.24 L526.00,153.39 L526.50,153.53 L527.00,153.67 L527.50,153.80 L528.00,153.92 L528.50,154.03 L529.00,154.11 L529.50,154.18 L530.00,154.23 L530.50,154.25 L531.00,154.25 L531.50,154.22 L532.00,154.17 L532.50,154.10 L533.00,154.01 L533.50,153.90 L534.00,153.77 L534.50,153.64 L535.00,153.50 L535.50,153.36 L536.00,153.21 L536.50,153.08 L537.00,152.95 L537.50,152.84 L538.00,152.74 L538.50,152.66 L539.00,152.60 L539.50,152.56 L540.00,152.55 L540.50,152.56 L541.00,152.60 L541.50,152.66 L542.00,152.74 L542.50,152.84 L543.00,152.95 L543.50,153.08 L544.00,153.21 L544.50,153.36 L545.00,153.50 L545.50,153.64 L546.00,153.77 L546.50,153.90 L547.00,154.01 L547.50,154.10 L548.00,154.17 L548.50,154.22 L549.00,154.25 L549.50,154.25 L550.00,154.23 L550.50,154.18 L551.00,154.11 L551.50,154.03 L552.00,153.92 L552.50,153.80 L553.00,153.67 L553.50,153.53 L554.00,153.39 L554.50,153.24 L555.00,153.10 L555.50,152.98 L556.00,152.86 L556.50,152.76 L557.00,152.67 L557.50,152.61 L558.00,152.57 L558.50,152.55 L559.00,152.56 L559.50,152.59 L560.00,152.64 L560.50,152.72 L561.00,152.81 L561.50,152.93 L562.00,153.05 L562.50,153.19 L563.00,153.33 L563.50,153.47 L564.00,153.61 L564.50,153.75 L565.00,153.87 L565.50,153.99 L566.00,154.08 L566.50,154.16 L567.00,154.21 L567.50,154.24 L568.00,154.25 L568.50,154.23 L569.00,154.19 L569.50,154.13 L570.00,154.04 L570.50,153.94 L571.00,153.83 L571.50,153.70 L572.00,153.56 L572.50,153.41 L573.00,153.27 L573.50,153.13 L574.00,153.00 L574.50,152.88 L575.00,152.77 L575.50,152.69 L576.00,152.62 L576.50,152.57 L577.00,152.55 L577.50,152.55 L578.00,152.58 L578.50,152.63 L579.00,152.70 L579.50,152.79 L580.00,152.90 L580.50,153.03 L581.00,153.16 L581.50,153.30 L582.00,153.44 L582.50,153.59 L583.00,153.72 L583.50,153.85 L584.00,153.96 L584.50,154.06 L585.00,154.14 L585.50,154.20 L586.00,154.24 L586.50,154.25 L587.00,154.24 L587.50,154.20 L588.00,154.14 L588.50,154.06 L589.00,153.96 L589.50,153.85 L590.00,153.72 L590.50,153.59 L591.00,153.44 L591.50,153.30 L592.00,153.16 L592.50,153.03 L593.00,152.90 L593.50,152.79 L594.00,152.70 L594.50,152.63 L595.00,152.58 L595.50,152.55 L596.00,152.55 L596.50,152.57 L597.00,152.62 L597.50,152.69 L598.00,152.77 L598.50,152.88 L599.00,153.00 L599.50,153.13 L600.00,153.27 L600.50,153.41 L601.00,153.56 L601.50,153.70 L602.00,153.82 L602.50,153.94 L603.00,154.04 L603.50,154.13 L604.00,154.19 L604.50,154.23 L605.00,154.25 L605.50,154.24 L606.00,154.21 L606.50,154.16 L607.00,154.08 L607.50,153.99 L608.00,153.87 L608.50,153.75 L609.00,153.61 L609.50,153.47 L610.00,153.33 L610.50,153.19 L611.00,153.05 L611.50,152.93 L612.00,152.81 L612.50,152.72 L613.00,152.64 L613.50,152.59 L614.00,152.56 L614.50,152.55 L615.00,152.57 L615.50,152.61 L616.00,152.67 L616.50,152.76 L617.00,152.86 L617.50,152.97 L618.00,153.10 L618.50,153.24 L619.00,153.39 L619.50,153.53 L620.00,153.67 L620.50,153.80 L621.00,153.92 L621.50,154.03 L622.00,154.11 L622.50,154.18 L623.00,154.23 L623.50,154.25 L624.00,154.25 L624.50,154.22 L625.00,154.17 L625.50,154.10 L626.00,154.01 L626.50,153.90 L627.00,153.77 L627.50,153.64 L628.00,153.50 L628.50,153.36 L629.00,153.21 L629.50,153.08 L630.00,152.95 L630.50,152.84 L631.00,152.74 L631.50,152.66 L632.00,152.60 L632.50,152.56 L633.00,152.55 L633.50,152.56 L634.00,152.60 L634.50,152.66 L635.00,152.74 L635.50,152.84 L636.00,152.95 L636.50,153.08 L637.00,153.21 L637.50,153.36 L638.00,153.50 L638.50,153.64 L639.00,153.77 L639.50,153.90 L640.00,154.01 L640.50,154.10 L641.00,154.17 L641.50,154.22 L642.00,154.25 L642.50,154.25 L643.00,154.23 L643.50,154.18 L644.00,154.11 L644.50,154.03 L645.00,153.92 L645.50,153.80 L646.00,153.67 L646.50,153.53 L647.00,153.39 L647.50,153.24 L648.00,153.10 L648.50,152.98 L649.00,152.86 L649.50,152.76 L650.00,152.67 L650.50,152.61 L651.00,152.57 L651.50,152.55 L652.00,152.56 L652.50,152.59 L653.00,152.64 L653.50,152.72 L654.00,152.81 L654.50,152.93 L655.00,153.05 L655.50,153.19 L656.00,153.33 L656.50,153.47 L657.00,153.61 L657.50,153.75 L658.00,153.87 L658.50,153.99 L659.00,154.08 L659.50,154.16 L660.00,154.21 L660.50,154.24 L661.00,154.25 L661.50,154.23 L662.00,154.19 L662.50,154.13 L663.00,154.04 L663.50,153.94 L664.00,153.83 L664.50,153.70 L665.00,153.56 L665.50,153.41 L666.00,153.27 L666.50,153.13 L667.00,153.00 L667.50,152.88 L668.00,152.77 L668.50,152.69 L669.00,152.62 L669.50,152.57 L670.00,152.55 L670.50,152.55 L671.00,152.58 L671.50,152.63 L672.00,152.70 L672.50,152.79 L673.00,152.90 L673.50,153.03 L674.00,153.16 L674.50,153.30 L675.00,153.44 L675.50,153.59 L676.00,153.72 L676.50,153.85 L677.00,153.96 L677.50,154.06 L678.00,154.14 L678.50,154.20 L679.00,154.24" fill="none" stroke="#c48a1c" stroke-width="1.8" stroke-linejoin="round"/>
<g fill="none" stroke-width="1.3">
<line x1="32" y1="13.5" x2="679" y2="13.5" stroke="#5a5a5a"/>
<line x1="32" y1="102.0" x2="679" y2="102.0" stroke="#282828"/>
<line x1="32" y1="13.5" x2="32" y2="102.0" stroke="#444"/>
<line x1="679" y1="13.5" x2="679" y2="102.0" stroke="#7a7a7a"/>
<line x1="32" y1="137.0" x2="679" y2="137.0" stroke="#6a6a6a"/>
<line x1="32" y1="234.3" x2="679" y2="234.3" stroke="#222"/>
<line x1="32" y1="137.0" x2="32" y2="234.3" stroke="#444"/>
<line x1="679" y1="137.0" x2="679" y2="234.3" stroke="#7a7a7a"/>
</g>
<text class="tk" transform="translate(28.0,102.8) scale(0.93,1)" text-anchor="end">0</text>
<text class="tk" transform="translate(28.0,75.1) scale(0.93,1)" text-anchor="end">200</text>
<text class="tk" transform="translate(28.0,47.4) scale(0.93,1)" text-anchor="end">400</text>
<text class="tk" transform="translate(28.0,19.7) scale(0.93,1)" text-anchor="end">600</text>
<text class="tk" transform="translate(28.0,216.5) scale(0.93,1)" text-anchor="end">-20</text>
<text class="tk" transform="translate(28.0,185.8) scale(0.93,1)" text-anchor="end">0</text>
<text class="tk" transform="translate(28.0,155.1) scale(0.93,1)" text-anchor="end">20</text>
<text class="tk" transform="translate(32.0,115.3) scale(0.9,1)" text-anchor="middle">0</text>
<text class="tk" transform="translate(32.0,247.3) scale(0.9,1)" text-anchor="middle">0</text>
<text class="tk" transform="translate(124.4,115.3) scale(0.9,1)" text-anchor="middle">0.1</text>
<text class="tk" transform="translate(124.4,247.3) scale(0.9,1)" text-anchor="middle">0.1</text>
<text class="tk" transform="translate(216.9,115.3) scale(0.9,1)" text-anchor="middle">0.2</text>
<text class="tk" transform="translate(216.9,247.3) scale(0.9,1)" text-anchor="middle">0.2</text>
<text class="tk" transform="translate(309.3,115.3) scale(0.9,1)" text-anchor="middle">0.3</text>
<text class="tk" transform="translate(309.3,247.3) scale(0.9,1)" text-anchor="middle">0.3</text>
<text class="tk" transform="translate(401.7,115.3) scale(0.9,1)" text-anchor="middle">0.4</text>
<text class="tk" transform="translate(401.7,247.3) scale(0.9,1)" text-anchor="middle">0.4</text>
<text class="tk" transform="translate(494.2,115.3) scale(0.9,1)" text-anchor="middle">0.5</text>
<text class="tk" transform="translate(494.2,247.3) scale(0.9,1)" text-anchor="middle">0.5</text>
<text class="tk" transform="translate(586.6,115.3) scale(0.9,1)" text-anchor="middle">0.6</text>
<text class="tk" transform="translate(586.6,247.3) scale(0.9,1)" text-anchor="middle">0.6</text>
<text class="tk" transform="translate(679.0,115.3) scale(0.9,1)" text-anchor="middle">0.7</text>
<text class="tk" transform="translate(679.0,247.3) scale(0.9,1)" text-anchor="middle">0.7</text>
<text class="ti" x="321.7" y="7.9" textLength="73" lengthAdjust="spacingAndGlyphs">Voltage at Wind</text>
<text class="ti" x="323.1" y="132.2" textLength="73" lengthAdjust="spacingAndGlyphs">Current at Wind</text>
<text class="ti" x="328.1" y="115.2" textLength="48.1" lengthAdjust="spacingAndGlyphs">Time (sec)</text>
<text class="ti" x="334.9" y="249.3" textLength="47.8" lengthAdjust="spacingAndGlyphs">Time (sec)</text>
<text class="ti" transform="translate(8.1,104.0) rotate(-90)" textLength="95.0" lengthAdjust="spacingAndGlyphs">Wind Voltage (Volts)</text>
<text class="ti" transform="translate(8.1,233.2) rotate(-90)" textLength="97.7" lengthAdjust="spacingAndGlyphs">Wind Current (Amps)</text>
</svg>
</body></html>
